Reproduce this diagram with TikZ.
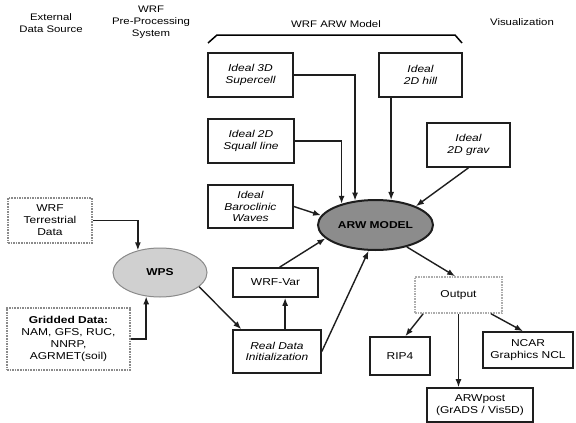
\documentclass[tikz,border=0pt]{standalone}
\usepackage{fontspec}
\setmainfont{Liberation Sans}[FakeStretch=1.2]
\usetikzlibrary{arrows.meta, shapes.geometric, calc}
\definecolor{cline}{HTML}{1E1E1E}
\definecolor{cdark}{HTML}{8C8C8C}
\definecolor{clight}{HTML}{D0D0D0}
\definecolor{cdots}{HTML}{8A8A8A}
\tikzset{
  every picture/.style={font=\fontsize{10}{12}\selectfont, line width=1pt, x=1pt, y=-1pt},
  box/.style={draw=cline, line width=1.6pt, align=center, inner sep=0pt, minimum width=85pt, minimum height=44pt},
  idealbox/.style={box, font=\fontsize{10}{11.5}\selectfont\itshape},
  dotbox/.style={box, draw=cdots, densely dotted},
  blob/.style={ellipse, inner sep=0pt, font=\fontsize{10}{12}\selectfont\bfseries},
  arrow/.style={-{Latex[length=8pt, width=6pt]}, draw=cline, line width=1.4pt},
  head/.style={align=center, font=\fontsize{9.5}{12}\selectfont},
}
\begin{document}
\begin{tikzpicture}
  \path[fill=white] (0,0) rectangle (576,423);
  \useasboundingbox (0,0) rectangle (576,423);
  % column headings
  \node[head] (hext) at (51,23) {External\\Data Source};
  \node[head] (hwps) at (151,22) {WRF\\Pre-Processing\\System};
  \node[head] (hmodel) at (336,24) {WRF ARW Model};
  \node[head] (hvis) at (522,22) {Visualization};
  \draw[line width=1.5pt] (208,43) -- (217,35) -- (455,35) -- (462,43);
  % ideal cases
  \node[idealbox] (super) at (250.5,75) {Ideal 3D\\Supercell};
  \node[idealbox, minimum width=83pt] (hill) at (420.5,75) {Ideal\\2D hill};
  \node[idealbox, minimum width=86pt] (squall) at (251,141) {Ideal 2D\\Squall line};
  \node[idealbox, minimum height=43pt] (baro) at (250.5,206.5) {Ideal\\Baroclinic\\Waves};
  \node[idealbox, minimum width=83pt] (grav) at (468.5,145) {Ideal\\2D grav};
  \node[blob, draw=cline, line width=2pt, fill=cdark, minimum width=115pt, minimum height=50pt] (arw) at (375.5,225) {ARW MODEL};
  % pre-processing
  \node[blob, draw=cdots, line width=1pt, fill=clight, minimum width=94pt, minimum height=49pt] (wps) at (160,272.5) {WPS};
  \node[dotbox, minimum width=84pt, minimum height=45pt] (terr) at (50,220.5) {WRF\\Terrestrial\\Data};
  \node[dotbox, minimum width=123pt, minimum height=62pt] (grid) at (68.5,339) {\textbf{Gridded Data:}\\NAM, GFS, RUC,\\NNRP,\\AGRMET(soil)};
  \node[box, minimum height=29pt] (var) at (275.5,282.5) {WRF-Var};
  \node[idealbox, minimum width=88pt, minimum height=43pt] (real) at (277,351.5) {Real Data\\Initialization};
  % visualization
  \node[dotbox, draw=cdots!70, minimum width=87pt, minimum height=36pt] (out) at (458.5,295) {Output};
  \node[box, minimum width=60pt, minimum height=38pt] (rip) at (400,356) {RIP4};
  \node[box, minimum width=90pt, minimum height=36pt] (ncar) at (528,350) {NCAR\\Graphics NCL};
  \node[box, minimum width=106pt, minimum height=34pt] (post) at (480,405) {ARWpost\\(GrADS / Vis5D)};
  % connectors
  \draw[arrow] (super.east) -| (arw.130);
  \draw[arrow] (squall.east) -| (arw.148);
  \draw[arrow] (arw.58 |- hill.south) -- (arw.58);
  \draw[arrow] (baro.east) -- (arw.170);
  \draw[arrow] (grav.south) -- (arw.25);
  \draw[arrow] (terr.east) -| (wps.135);
  \draw[arrow] (grid.east) -| (wps.240);
  \draw[arrow] (wps.340) -- (real.148);
  \draw[arrow] (real.70) -- (real.70 |- var.south);
  \draw[arrow] (var.75) -- (arw.195);
  \draw[arrow] (real.east) -- (arw.255);
  \draw[arrow] (arw.325) -- (out.100);
  \draw[arrow] (out.208) -- (rip.75);
  \draw[arrow] (out.330) -- (ncar.105);
  \draw[arrow] (out.south) -- (out.south |- post.north);
\end{tikzpicture}
\end{document}
